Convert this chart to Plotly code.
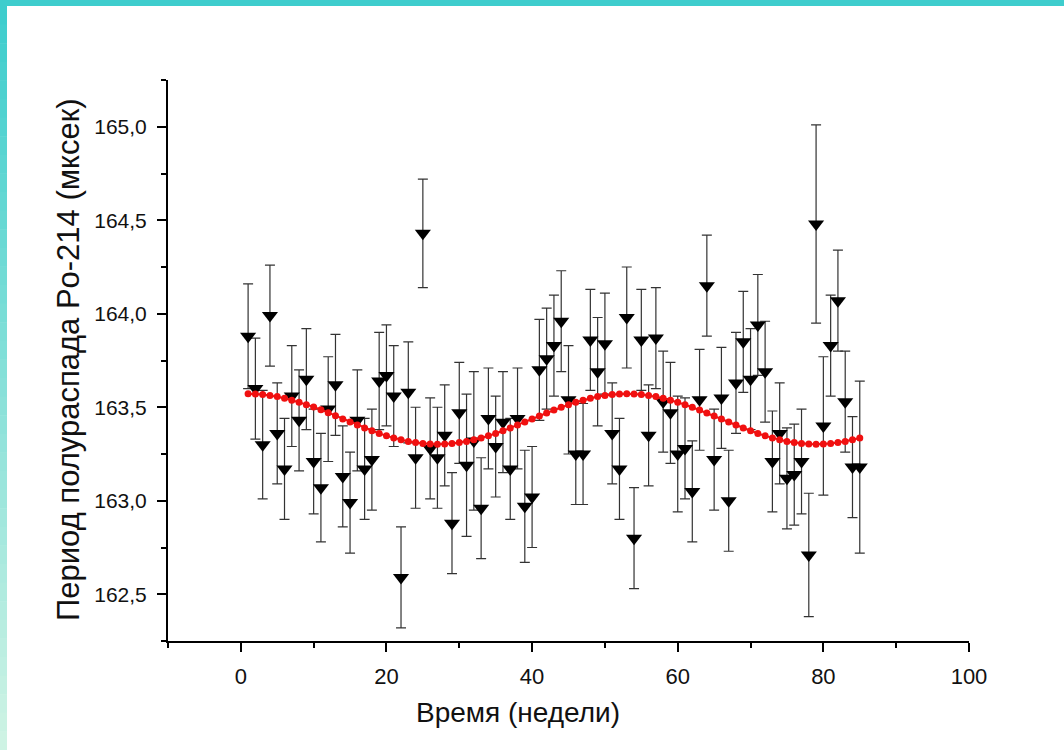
import plotly.graph_objects as go

# ---------------- data ----------------
weeks = list(range(1, 86))

half_life = [
    163.88, 163.60, 163.30, 163.99, 163.36, 163.17, 163.56, 163.43, 163.65, 163.21,
    163.07, 163.49, 163.62, 163.13, 162.99, 163.43, 163.17, 163.22, 163.64, 163.67,
    163.56, 162.59, 163.58, 163.23, 164.43, 163.28, 163.23, 163.35, 162.88, 163.47,
    163.19, 163.32, 162.96, 163.44, 163.29, 163.42, 163.17, 163.44, 162.97, 163.02,
    163.70, 163.76, 163.83, 163.96, 163.54, 163.25, 163.25, 163.86, 163.69, 163.84,
    163.36, 163.17, 163.98, 162.80, 163.86, 163.35, 163.87, 163.53, 163.47, 163.25,
    163.28, 163.05, 163.54, 164.15, 163.22, 163.55, 163.00, 163.63, 163.85, 163.65,
    163.94, 163.69, 163.21, 163.36, 163.12, 163.14, 163.21, 162.71, 164.48, 163.40,
    163.83, 164.07, 163.53, 163.18, 163.18,
]

errors = [
    0.28, 0.27, 0.29, 0.27, 0.27, 0.27, 0.27, 0.27, 0.27, 0.28,
    0.29, 0.28, 0.27, 0.27, 0.27, 0.27, 0.27, 0.27, 0.26, 0.27,
    0.27, 0.27, 0.27, 0.27, 0.29, 0.27, 0.27, 0.27, 0.27, 0.27,
    0.38, 0.37, 0.27, 0.27, 0.27, 0.27, 0.27, 0.27, 0.30, 0.27,
    0.27, 0.27, 0.27, 0.27, 0.29, 0.27, 0.27, 0.27, 0.29, 0.27,
    0.27, 0.27, 0.27, 0.27, 0.27, 0.27, 0.27, 0.27, 0.27, 0.31,
    0.27, 0.27, 0.27, 0.27, 0.27, 0.27, 0.27, 0.27, 0.27, 0.27,
    0.27, 0.27, 0.27, 0.27, 0.27, 0.27, 0.28, 0.33, 0.53, 0.37,
    0.27, 0.27, 0.27, 0.27, 0.46,
]

fit_curve = [
    163.572, 163.571, 163.568, 163.563, 163.557, 163.548, 163.538, 163.527, 163.514, 163.502,
    163.487, 163.471, 163.454, 163.437, 163.421, 163.405, 163.389, 163.374, 163.360, 163.347,
    163.336, 163.326, 163.317, 163.311, 163.306, 163.303, 163.302, 163.303, 163.306, 163.311,
    163.317, 163.326, 163.336, 163.347, 163.360, 163.374, 163.389, 163.405, 163.421, 163.437,
    163.453, 163.469, 163.485, 163.500, 163.514, 163.527, 163.538, 163.548, 163.557, 163.563,
    163.568, 163.571, 163.572, 163.571, 163.568, 163.563, 163.557, 163.548, 163.538, 163.527,
    163.514, 163.500, 163.485, 163.469, 163.453, 163.437, 163.421, 163.405, 163.389, 163.374,
    163.360, 163.347, 163.336, 163.326, 163.317, 163.311, 163.306, 163.303, 163.302, 163.303,
    163.306, 163.311, 163.317, 163.326, 163.336,
]

x_title = "Время (недели)"
y_title = "Период полураспада Po-214 (мксек)"

# ---------------- geometry helpers (pixel -> paper) ----------------
W, H = 1064, 750
L, R, T, B = 168, 95, 80, 109
PW, PH = W - L - R, H - T - B


def px(xp):
    return (xp - L) / PW


def py(yp):
    return (H - B - yp) / PH


FONT = "Liberation Sans, Arial, sans-serif"

fig = go.Figure()

fig.add_trace(go.Scatter(
    x=weeks, y=half_life, mode="markers",
    marker=dict(symbol="triangle-down", size=14, color="black", line=dict(width=0)),
    error_y=dict(type="data", array=errors, visible=True, color="#333333",
                 thickness=1.2, width=5),
    showlegend=False, hoverinfo="x+y",
))

fig.add_trace(go.Scatter(
    x=weeks, y=fit_curve, mode="lines+markers",
    line=dict(color="#f01010", width=2),
    marker=dict(symbol="circle", size=7, color="#f01010"),
    showlegend=False,
))

# slide frame: teal strip at top, gradient strip on the left
shapes = []
shapes.append(dict(type="rect", xref="paper", yref="paper",
                   x0=px(0), x1=px(W), y0=py(6), y1=py(0),
                   fillcolor="#3ecdcd", line=dict(width=0), layer="above"))
n = 40
c0 = (62, 205, 205)
c1 = (206, 243, 228)
for i in range(n):
    t = i / (n - 1)
    col = tuple(int(round(c0[k] + (c1[k] - c0[k]) * t)) for k in range(3))
    y_top = 6 + (H - 6) * i / n
    y_bot = 6 + (H - 6) * (i + 1) / n
    shapes.append(dict(type="rect", xref="paper", yref="paper",
                       x0=px(0), x1=px(7), y0=py(y_bot + 0.5), y1=py(y_top),
                       fillcolor="rgb(%d,%d,%d)" % col, line=dict(width=0),
                       layer="above"))

annotations = [
    dict(text=x_title, xref="paper", yref="paper", x=px(518), y=py(712),
         showarrow=False, font=dict(family=FONT, size=28, color="#111111"),
         xanchor="center", yanchor="middle"),
    dict(text=y_title, xref="paper", yref="paper", x=px(68), y=py(360),
         showarrow=False, textangle=-90,
         font=dict(family=FONT, size=31, color="#111111"),
         xanchor="center", yanchor="middle"),
]

fig.update_layout(
    width=W, height=H,
    margin=dict(l=L, r=R, t=T, b=B, pad=0),
    paper_bgcolor="white", plot_bgcolor="white",
    separators=",.",
    font=dict(family=FONT, color="#111111"),
    shapes=shapes, annotations=annotations,
    xaxis=dict(range=[-10, 100], tick0=0, dtick=20, showgrid=False, zeroline=False,
               showline=True, linecolor="black", linewidth=2,
               ticks="outside", ticklen=9, tickwidth=1.5, tickcolor="black",
               minor=dict(dtick=10, tick0=0, ticks="outside", ticklen=5,
                          tickwidth=1.5, tickcolor="black", showgrid=False),
               tickfont=dict(family=FONT, size=22, color="#111111"),
               ticklabelstandoff=6),
    yaxis=dict(range=[162.25, 165.25], tick0=162.5, dtick=0.5, tickformat=".1f",
               showgrid=False, zeroline=False,
               showline=True, linecolor="black", linewidth=2,
               ticks="outside", ticklen=9, tickwidth=1.5, tickcolor="black",
               minor=dict(dtick=0.25, tick0=162.25, ticks="outside", ticklen=5,
                          tickwidth=1.5, tickcolor="black", showgrid=False),
               tickfont=dict(family=FONT, size=21, color="#111111"),
               ticklabelstandoff=6),
)

fig.write_html("out.html")
